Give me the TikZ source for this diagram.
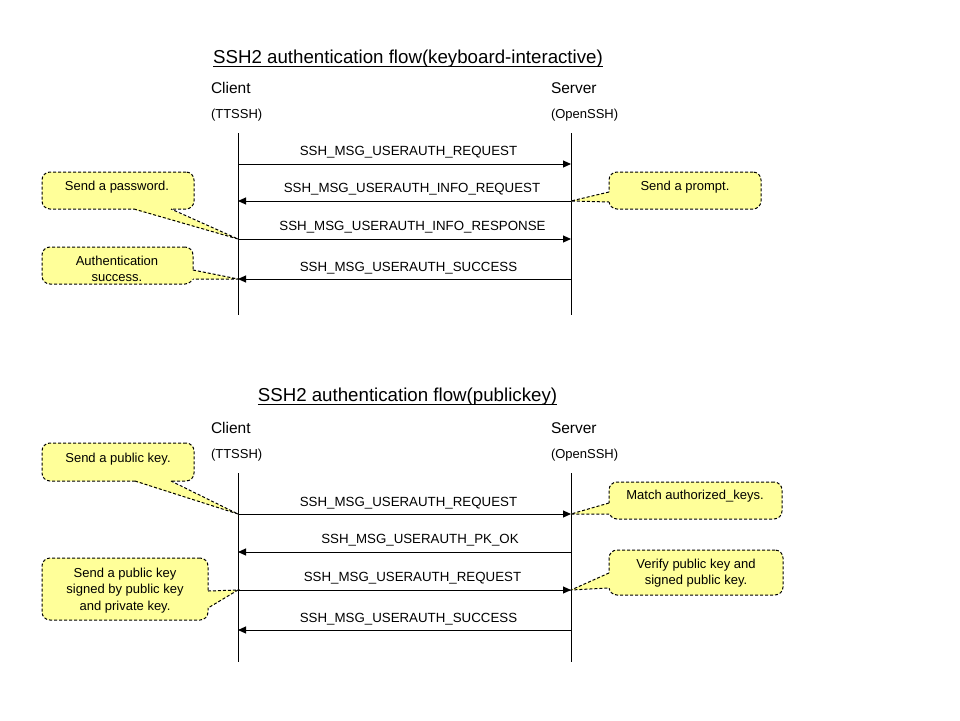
\documentclass[tikz,border=0pt]{standalone}
\usepackage{fontspec}
\setmainfont{Liberation Sans}
\usetikzlibrary{arrows.meta,calc}
\definecolor{cfill}{RGB}{255,255,153}
\begin{document}
\begin{tikzpicture}[x=1pt,y=-1pt,
  every node/.style={inner sep=0pt,outer sep=0pt},
  txt/.style={font=\fontsize{13}{16.5}\selectfont,text depth=0pt,align=center},
  one/.style={txt,text height=9.4pt},
  mtxt/.style={font=\fontsize{13.3}{16}\selectfont,text depth=0pt,text height=9.5pt},
  head/.style={font=\fontsize{15.5}{18}\selectfont,anchor=west,text height=11pt,text depth=0pt},
  sub/.style={font=\fontsize{13}{16}\selectfont,anchor=west,text height=9.4pt,text depth=0pt},
  title/.style={font=\fontsize{18.7}{22}\selectfont,anchor=base},
  lifeline/.style={line width=1pt},
  msg/.style={line width=1pt,-{Triangle[length=8pt,width=7pt]}},
  cbox/.style={draw,fill=cfill,line width=1pt,dash pattern=on 3pt off 2pt,rounded corners=8pt},
  cline/.style={line width=1pt,dash pattern=on 3pt off 2pt},
]
\useasboundingbox (0,0) rectangle (960,720);

% ---------------- Diagram 1 ----------------
\node[title] (t1) at (408,63.5) {SSH2 authentication flow(keyboard-interactive)};
\draw[line width=1pt] ($(t1.base west)+(0,3)$) -- ($(t1.base east)+(0,3)$);
\node[head] (cl1) at (211,88) {Client};
\node[head] (sv1) at (551,88) {Server};
\node[sub] (ct1) at (211,114) {(TTSSH)};
\node[sub] (st1) at (551,114) {(OpenSSH)};

\coordinate (ca1) at (238,133); \coordinate (cb1) at (238,315);
\coordinate (sa1) at (571,133); \coordinate (sb1) at (571,315);
\draw[lifeline] (ca1) -- (cb1);
\draw[lifeline] (sa1) -- (sb1);

\coordinate (c11) at (238,164); \coordinate (s11) at (571,164);
\coordinate (c12) at (238,201); \coordinate (s12) at (571,201);
\coordinate (c13) at (238,239); \coordinate (s13) at (571,239);
\coordinate (c14) at (238,279); \coordinate (s14) at (571,279);

\draw[msg] (c11) -- (s11);
\draw[msg] (s12) -- (c12);
\draw[msg] (c13) -- (s13);
\draw[msg] (s14) -- (c14);

\node[mtxt] (m11) at (408.5,151) {SSH\_MSG\_USERAUTH\_REQUEST};
\node[mtxt] (m12) at (412,188) {SSH\_MSG\_USERAUTH\_INFO\_REQUEST};
\node[mtxt] (m13) at (412.5,226) {SSH\_MSG\_USERAUTH\_INFO\_RESPONSE};
\node[mtxt] (m14) at (408.5,267) {SSH\_MSG\_USERAUTH\_SUCCESS};

% callout: Send a password.
\node[cbox,minimum width=152pt,minimum height=37pt] (pw) at (118,190.5) {};
\fill[cfill] ($(pw.south west)+(92,-1.5)$) -- ($(pw.south west)+(92,0.6)$) -- (c13) -- ($(pw.south west)+(129,0.6)$) -- ($(pw.south west)+(129,-1.5)$) -- cycle;
\draw[cline] ($(pw.south west)+(92,0)$) -- (c13) -- ($(pw.south west)+(129,0)$);
\node[one] (pwt) at (117,186) {Send a password.};

% callout: Authentication success.
\node[cbox,minimum width=151pt,minimum height=37pt] (au) at (117.5,265.5) {};
\fill[cfill] ($(au.north east)+(-1.5,23)$) -- ($(au.north east)+(0.6,23)$) -- (c14) -- ($(au.north east)+(0.6,32)$) -- ($(au.north east)+(-1.5,32)$) -- cycle;
\draw[cline] ($(au.north east)+(0,23)$) -- (c14) -- ($(au.north east)+(0,32)$);
\node[txt] (aut) at (117,269) {Authentication\\success.};

% callout: Send a prompt.
\node[cbox,minimum width=152pt,minimum height=37pt] (pr) at (685,190.5) {};
\fill[cfill] ($(pr.north west)+(1.5,20)$) -- ($(pr.north west)+(-0.6,20)$) -- (s12) -- ($(pr.north west)+(-0.6,30)$) -- ($(pr.north west)+(1.5,30)$) -- cycle;
\draw[cline] ($(pr.north west)+(0,20)$) -- (s12) -- ($(pr.north west)+(0,30)$);
\node[one] (prt) at (685,186) {Send a prompt.};

% ---------------- Diagram 2 ----------------
\node[title] (t2) at (407.5,401.5) {SSH2 authentication flow(publickey)};
\draw[line width=1pt] ($(t2.base west)+(0,3)$) -- ($(t2.base east)+(0,3)$);
\node[head] (cl2) at (211,428) {Client};
\node[head] (sv2) at (551,428) {Server};
\node[sub] (ct2) at (211,454) {(TTSSH)};
\node[sub] (st2) at (551,454) {(OpenSSH)};

\coordinate (ca2) at (238,473); \coordinate (cb2) at (238,662);
\coordinate (sa2) at (571,473); \coordinate (sb2) at (571,662);
\draw[lifeline] (ca2) -- (cb2);
\draw[lifeline] (sa2) -- (sb2);

\coordinate (c21) at (238,514); \coordinate (s21) at (571,514);
\coordinate (c22) at (238,552); \coordinate (s22) at (571,552);
\coordinate (c23) at (238,590); \coordinate (s23) at (571,590);
\coordinate (c24) at (238,630); \coordinate (s24) at (571,630);

\draw[msg] (c21) -- (s21);
\draw[msg] (s22) -- (c22);
\draw[msg] (c23) -- (s23);
\draw[msg] (s24) -- (c24);

\node[mtxt] (m21) at (408.5,502) {SSH\_MSG\_USERAUTH\_REQUEST};
\node[mtxt] (m22) at (420,539) {SSH\_MSG\_USERAUTH\_PK\_OK};
\node[mtxt] (m23) at (412.5,577) {SSH\_MSG\_USERAUTH\_REQUEST};
\node[mtxt] (m24) at (408.5,618) {SSH\_MSG\_USERAUTH\_SUCCESS};

% callout: Send a public key.
\node[cbox,minimum width=152pt,minimum height=38pt] (pk) at (118,462) {};
\fill[cfill] ($(pk.south west)+(93,-1.5)$) -- ($(pk.south west)+(93,0.6)$) -- (c21) -- ($(pk.south west)+(129,0.6)$) -- ($(pk.south west)+(129,-1.5)$) -- cycle;
\draw[cline] ($(pk.south west)+(93,0)$) -- (c21) -- ($(pk.south west)+(129,0)$);
\node[one] (pkt) at (118,458) {Send a public key.};

% callout: Send a public key signed ...
\node[cbox,minimum width=166pt,minimum height=62pt] (sg) at (125,589) {};
\fill[cfill] ($(sg.north east)+(-1.5,33)$) -- ($(sg.north east)+(0.6,33)$) -- (c23) -- ($(sg.north east)+(0.6,50)$) -- ($(sg.north east)+(-1.5,50)$) -- cycle;
\draw[cline] ($(sg.north east)+(0,33)$) -- (c23) -- ($(sg.north east)+(0,50)$);
\node[txt] (sgt) at (125,589) {Send a public key\\signed by public key\\and private key.};

% callout: Match authorized_keys.
\node[cbox,minimum width=173pt,minimum height=37pt] (ma) at (695.5,500.5) {};
\fill[cfill] ($(ma.north west)+(1.5,21)$) -- ($(ma.north west)+(-0.6,21)$) -- (s21) -- ($(ma.north west)+(-0.6,32)$) -- ($(ma.north west)+(1.5,32)$) -- cycle;
\draw[cline] ($(ma.north west)+(0,21)$) -- (s21) -- ($(ma.north west)+(0,32)$);
\node[one] (mat) at (695,495) {Match authorized\_keys.};

% callout: Verify public key ...
\node[cbox,minimum width=174pt,minimum height=45pt] (vf) at (696,572.5) {};
\fill[cfill] ($(vf.north west)+(1.5,23)$) -- ($(vf.north west)+(-0.6,23)$) -- (s23) -- ($(vf.north west)+(-0.6,38)$) -- ($(vf.north west)+(1.5,38)$) -- cycle;
\draw[cline] ($(vf.north west)+(0,23)$) -- (s23) -- ($(vf.north west)+(0,38)$);
\node[txt] (vft) at (696,572) {Verify public key and\\signed public key.};
\end{tikzpicture}
\end{document}
